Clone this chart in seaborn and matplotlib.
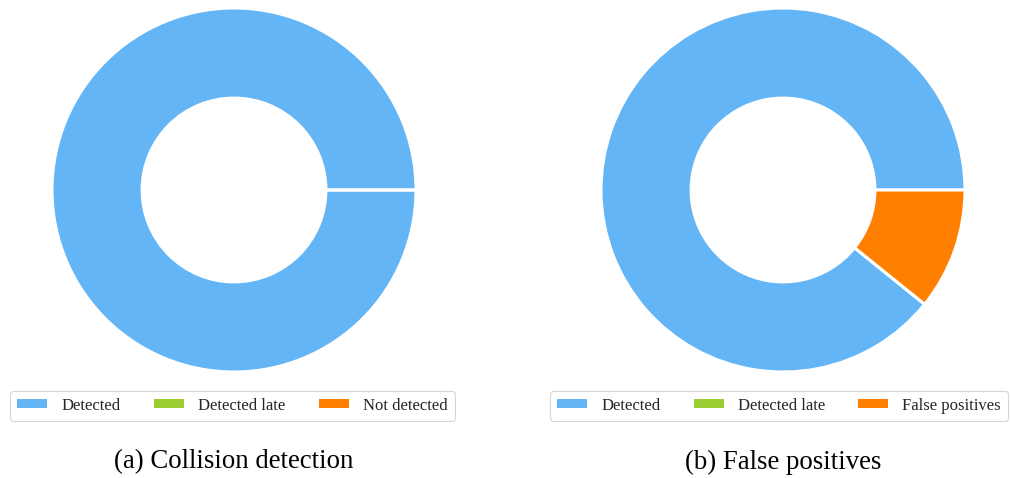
import matplotlib
matplotlib.use("Agg")
import matplotlib.pyplot as plt
from matplotlib.patches import Patch
import seaborn as sns

# Outcome shares (percent) for each evaluation
collision_labels = ["Detected", "Detected late", "Not detected"]
collision_values = [100.0, 0.0, 0.0]

fp_labels = ["Detected", "Detected late", "False positives"]
fp_values = [89.2, 0.0, 10.8]

captions = ["(a) Collision detection", "(b) False positives"]

sns.set_theme(style="white")
plt.rcParams["font.family"] = ["Liberation Serif", "DejaVu Serif"]

colors = ["#64b5f6", "#9acd32", "#ff8000"]
sns.set_palette(colors)

W, H = 1010, 478
fig = plt.figure(figsize=(W / 100, H / 100), dpi=100)

panels = [
    (collision_labels, collision_values, 234, 232.5, captions[0]),
    (fp_labels, fp_values, 783, 779, captions[1]),
]

R = 182
cy = 190
for labels, values, cx, lx, caption in panels:
    ax = fig.add_axes([(cx - R) / W, (H - cy - R) / H, 2 * R / W, 2 * R / H])
    ax.pie(values, colors=sns.color_palette(n_colors=3), startangle=0,
           counterclock=True, radius=1.0,
           wedgeprops=dict(width=0.495, edgecolor="white", linewidth=2.2))
    ax.set_xlim(-1.0, 1.0)
    ax.set_ylim(-1.0, 1.0)
    ax.set_aspect("equal")

    handles = [Patch(facecolor=c, edgecolor="none") for c in colors]
    leg = fig.legend(handles, labels, loc="center",
                     bbox_to_anchor=(lx / W, 1 - 405.5 / H), ncol=3,
                     fontsize=12.0, handlelength=1.8, handleheight=0.43,
                     handletextpad=0.85, columnspacing=2.0,
                     frameon=True, fancybox=True, borderpad=0.42)
    leg.get_frame().set_edgecolor("#cccccc")
    leg.get_frame().set_linewidth(0.8)

    fig.text(cx / W, 1 - 462 / H, caption, ha="center", va="center",
             fontsize=19.3, color="black")

fig.savefig("out.png", dpi=100)
